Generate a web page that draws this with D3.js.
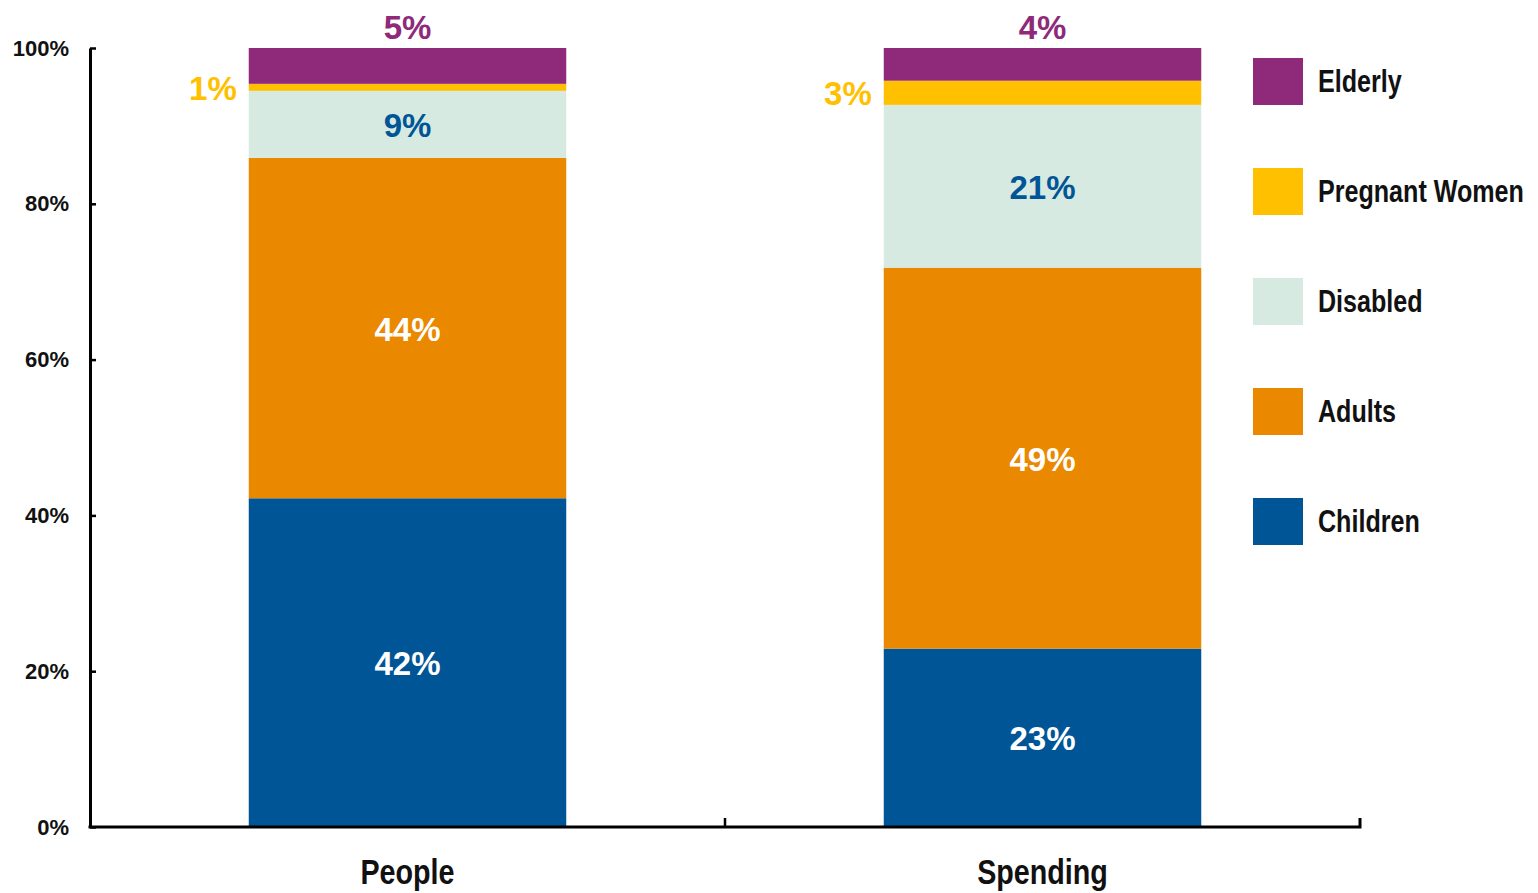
<!DOCTYPE html>
<html>
<head>
<meta charset="utf-8">
<script src="https://cdn.jsdelivr.net/npm/d3@7/dist/d3.min.js"></script>
<style>
  html, body { margin: 0; padding: 0; background: #ffffff; }
  svg { display: block; }
</style>
</head>
<body>
<svg id="chart" width="1538" height="893"></svg>
<script>
// ---- data ----
const categories = ["People", "Spending"];
const seriesNames = ["Children", "Adults", "Disabled", "Pregnant Women", "Elderly"];
const children = [42.2, 22.9];
const adults = [43.7, 48.9];
const disabled = [8.6, 20.9];
const pregnant = [0.9, 3.1];
const elderly = [4.6, 4.2];
const yTickValues = [0, 20, 40, 60, 80, 100];

const seriesColors = ["#005596", "#EA8800", "#D6EAE1", "#FFC000", "#8E2A79"];
const labelColors = ["#ffffff", "#ffffff", "#005596", "#FFC000", "#8E2A79"];

(function () {
// ---- build table ----
const seriesValues = [children, adults, disabled, pregnant, elderly];
const table = categories.map((c, i) => {
  const row = { category: c };
  seriesNames.forEach((s, j) => row[s] = seriesValues[j][i]);
  return row;
});
const stacked = d3.stack().keys(seriesNames)(table);

// ---- layout ----
const svg = d3.select("#chart");
const mLeft = 90, mRight = 1360, mTop = 48, mBottom = 827;
const narrow = 0.82;

const x = d3.scaleBand().domain(categories).range([mLeft, mRight])
  .paddingInner(0.5).paddingOuter(0.25);
const y = d3.scaleLinear().domain([0, 100]).range([mBottom, mTop]);
const color = d3.scaleOrdinal().domain(seriesNames).range(seriesColors);
const lblColor = d3.scaleOrdinal().domain(seriesNames).range(labelColors);

// bars
const g = svg.append("g");
stacked.forEach(layer => {
  g.append("g").selectAll("rect").data(layer).join("rect")
    .attr("x", d => x(d.data.category))
    .attr("width", x.bandwidth())
    .attr("y", d => y(d[1]))
    .attr("height", d => y(d[0]) - y(d[1]))
    .attr("fill", color(layer.key));
});

// data labels
const labelFont = "'Liberation Sans', Arial, sans-serif";
stacked.forEach(layer => {
  const key = layer.key;
  g.append("g").selectAll("text").data(layer).join("text")
    .attr("font-family", labelFont)
    .attr("font-weight", "bold")
    .attr("font-size", 33)
    .attr("fill", lblColor(key))
    .attr("dominant-baseline", "central")
    .attr("text-anchor", key === "Pregnant Women" ? "end" : "middle")
    .attr("x", d => key === "Pregnant Women" ? x(d.data.category) - 12 : x(d.data.category) + x.bandwidth() / 2)
    .attr("y", d => key === "Elderly" ? y(d[1]) - 21 : (y(d[0]) + y(d[1])) / 2 + 1)
    .text(d => Math.round(d[1] - d[0]) + "%");
});

// y axis
const yAxis = d3.axisLeft(y)
  .tickValues(yTickValues)
  .tickFormat(d => d + "%")
  .tickSizeInner(-6).tickSizeOuter(0).tickPadding(21);
const ya = svg.append("g").attr("transform", `translate(${mLeft},0)`).call(yAxis);
ya.select(".domain").attr("stroke", "#000").attr("stroke-width", 3);
ya.selectAll(".tick line").attr("stroke", "#000").attr("stroke-width", 2.5);
ya.selectAll(".tick text")
  .attr("font-family", labelFont).attr("font-weight", "bold")
  .attr("font-size", 22).attr("fill", "#111");

// x axis
const xAxis = d3.axisBottom(x).tickSize(0).tickPadding(0);
const xa = svg.append("g").attr("transform", `translate(0,${mBottom})`).call(xAxis);
xa.select(".domain").attr("stroke", "#000").attr("stroke-width", 3)
  .attr("d", `M${mLeft - 1.5},0H${mRight}V-9`);
xa.selectAll(".tick text")
  .attr("font-family", labelFont)
  .attr("font-weight", "bold").attr("font-size", 35).attr("fill", "#111")
  .attr("y", 0).attr("dy", 0)
  .attr("transform", `translate(0,57) scale(${narrow},1)`);
// category boundary ticks
const boundaries = d3.range(1, categories.length).map(i => x.range()[0] + i * x.step());
xa.selectAll(".bnd").data(boundaries).join("line")
  .attr("class", "bnd")
  .attr("x1", d => d).attr("x2", d => d)
  .attr("y1", 0).attr("y2", -9)
  .attr("stroke", "#000").attr("stroke-width", 2.5);

// legend
const legendItems = seriesNames.slice().reverse();
const lg = svg.append("g").attr("transform", "translate(1253,58)");
const li = lg.selectAll("g").data(legendItems).join("g")
  .attr("transform", (d, i) => `translate(0,${i * 110})`);
li.append("rect").attr("width", 50).attr("height", 47).attr("fill", d => color(d));
li.append("text")
  .attr("transform", `translate(65,23) scale(0.81,1)`)
  .attr("dominant-baseline", "central")
  .attr("font-family", labelFont)
  .attr("font-weight", "bold").attr("font-size", 31).attr("fill", "#111")
  .text(d => d);
})();
</script>
</body>
</html>
